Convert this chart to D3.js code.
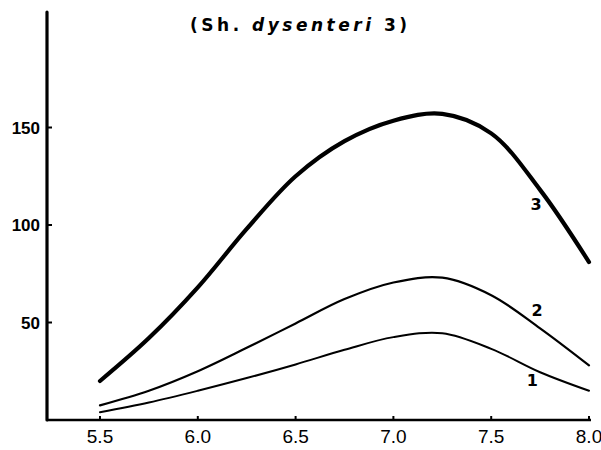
<!DOCTYPE html>
<html>
  <head>
    <meta charset="utf-8">
    <title>Sh. dysenteri 3</title>
    <script src="https://d3js.org/d3.v7.min.js"></script>
    <style>
      body { margin: 0; background: #fff; }
      text { fill: #000; }
    </style>
  </head>
  <body>
    <svg width="601" height="450"></svg>

    <script>
      // values
      const phValues = [5.5, 5.75, 6.0, 6.25, 6.5, 6.75, 7.0, 7.25, 7.5, 7.75, 8.0];
      const curve1 = [4, 9, 15, 21.5, 28.5, 36, 42.5, 44.5, 36.5, 24.5, 15];
      const curve2 = [7.5, 15, 25, 37, 49.5, 62, 70.5, 73, 64, 47, 28];
      const curve3 = [20, 42, 68, 98, 125, 143, 153.5, 157, 147, 118, 81];
      const xTicks = [5.5, 6.0, 6.5, 7.0, 7.5, 8.0];
      const yTicks = [50, 100, 150];
      const seriesNames = ["1", "2", "3"];

      const svg = d3.select("svg");

      const x = d3.scaleLinear().domain([5.5, 8.0]).range([100, 589]);
      const y = d3.scaleLinear().domain([0, 150]).range([420, 127.5]);

      const x0 = x.invert(47);   // where the axes cross
      const yTop = y.invert(12);
      const xEnd = x.invert(591);

      // axes
      svg.append("line")
        .attr("x1", x(x0)).attr("y1", y(0))
        .attr("x2", x(x0)).attr("y2", y(yTop))
        .attr("stroke", "#000").attr("stroke-width", 3.2)
        .attr("stroke-linecap", "round");

      svg.append("line")
        .attr("x1", x(x0)).attr("y1", y(0))
        .attr("x2", x(xEnd)).attr("y2", y(0))
        .attr("stroke", "#000").attr("stroke-width", 2.6);

      // y ticks
      svg.selectAll(".ytick")
        .data(yTicks)
        .enter().append("line")
        .attr("x1", x(x0)).attr("x2", x(x0) + 5)
        .attr("y1", d => y(d)).attr("y2", d => y(d))
        .attr("stroke", "#000").attr("stroke-width", 2);

      svg.selectAll(".ylab")
        .data(yTicks)
        .enter().append("text")
        .attr("x", 40)
        .attr("y", d => y(d) + 6)
        .attr("text-anchor", "end")
        .attr("font-family", "Liberation Sans Narrow, Liberation Sans, sans-serif")
        .attr("font-weight", "bold")
        .attr("font-size", 17)
        .text(d => d);

      // x ticks
      svg.selectAll(".xtick")
        .data(xTicks)
        .enter().append("line")
        .attr("x1", d => x(d)).attr("x2", d => x(d))
        .attr("y1", y(0)).attr("y2", y(0) - 4)
        .attr("stroke", "#000").attr("stroke-width", 2);

      svg.selectAll(".xlab")
        .data(xTicks)
        .enter().append("text")
        .attr("x", d => x(d))
        .attr("y", 443)
        .attr("text-anchor", "middle")
        .attr("font-family", "Liberation Sans Narrow, Liberation Sans, sans-serif")
        .attr("font-size", 19)
        .text(d => d.toFixed(1));

      // curves
      const line = d3.line()
        .x(d => x(d[0]))
        .y(d => y(d[1]))
        .curve(d3.curveCatmullRom.alpha(0.5));

      const series = [curve1, curve2, curve3];
      const widths = [2, 2.2, 4.2];

      svg.selectAll(".curve")
        .data(series)
        .enter().append("path")
        .attr("d", s => line(phValues.map((p, i) => [p, s[i]])))
        .attr("fill", "none")
        .attr("stroke", "#000")
        .attr("stroke-width", (s, i) => widths[i])
        .attr("stroke-linecap", "round");

      // curve labels
      const labelPos = [[7.71, 17.4], [7.735, 53.3], [7.73, 107.7]];
      svg.selectAll(".clab")
        .data(seriesNames)
        .enter().append("text")
        .attr("x", (d, i) => x(labelPos[i][0]))
        .attr("y", (d, i) => y(labelPos[i][1]))
        .attr("text-anchor", "middle")
        .attr("font-family", "DejaVu Sans, sans-serif")
        .attr("font-weight", "bold")
        .attr("font-size", 16)
        .text(d => d);

      // title
      const title = svg.append("text")
        .attr("x", 190)
        .attr("y", 31)
        .attr("font-family", "DejaVu Sans, sans-serif")
        .attr("font-weight", "bold")
        .attr("font-size", 17)
        .attr("textLength", 217)
        .attr("lengthAdjust", "spacing");
      title.append("tspan").text("(Sh. ");
      title.append("tspan").attr("font-style", "italic").text("dysenteri");
      title.append("tspan").text(" 3)");
    </script>
  </body>
</html>
